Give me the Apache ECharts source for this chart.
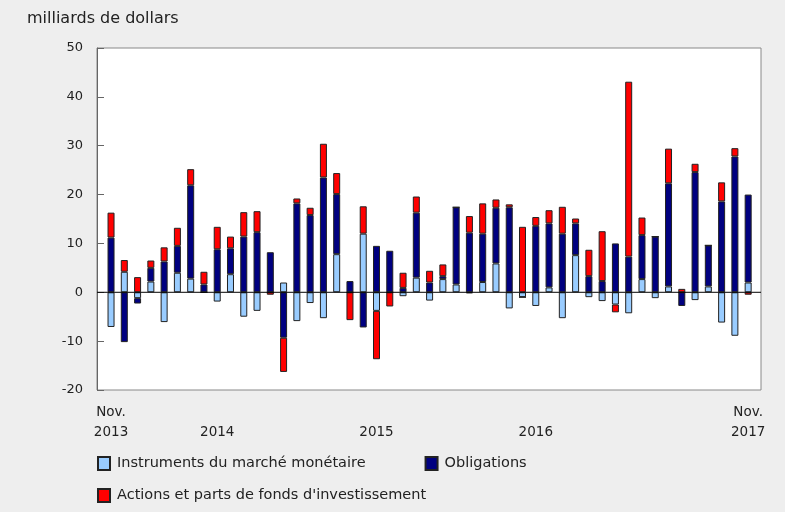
<!DOCTYPE html>
<html>
<head>
<meta charset="utf-8">
<script src="https://cdn.jsdelivr.net/npm/echarts@6/dist/echarts.min.js"></script>
<style>
  html, body { margin: 0; padding: 0; background: #eeeeee; }
  #chart { width: 785px; height: 512px; }
</style>
</head>
<body>
<div id="chart"></div>
<script>
// Nov 2013 .. Nov 2017, monthly
const months = []
for (let i = 0; i < 49; i++) {
  const m = (10 + i) % 12
  const y = 2013 + Math.floor((10 + i) / 12)
  months.push(y + '-' + String(m + 1).padStart(2, '0'))
}

const tickLabels = {
  '2013-11': 'Nov.\n2013',
  '2014-07': '\n2014',
  '2015-07': '\n2015',
  '2016-07': '\n2016',
  '2017-11': 'Nov.\n2017'
}

const moneyMarket = [
  -7.1, 4.2, -1.2, 2.2, -6.1, 4.0, 2.8, 0, -1.9, 3.7, -5.0, -3.8,
  0, 2.0, -5.9, -2.2, -5.3, 7.8, 0, 12.0, -3.8, 0, -0.8, 3.0,
  -1.7, 2.7, 1.6, -0.2, 2.1, 5.9, -3.3, -1.0, -2.8, 1.0, -5.3, 7.6,
  -1.0, -1.8, -2.5, -4.3, 2.7, -1.2, 1.2, 0, -1.6, 1.2, -6.2, -8.9,
  2.0
]

const bonds = [
  11.2, -10.2, -1.1, 2.8, 6.3, 5.5, 19.1, 1.6, 8.8, 5.3, 11.4, 12.3,
  8.2, -9.3, 18.2, 15.8, 23.5, 12.3, 2.3, -7.2, 9.5, 8.5, 0.9, 13.3,
  2.0, 0.6, 15.8, 12.2, 9.9, 11.4, 17.4, 0, 13.6, 13.1, 12.0, 6.5,
  3.3, 2.3, 10.0, 7.3, 9.0, 11.4, 21.1, -2.8, 24.6, 8.4, 18.6, 27.8,
  18.0
]

const equity = [
  5.1, 2.4, 3.1, 1.5, 2.9, 3.7, 3.3, 2.6, 4.6, 2.4, 5.0, 4.3,
  -0.5, -7.0, 1.0, 1.5, 6.9, 4.3, -5.7, 5.6, -9.9, -2.9, 3.1, 3.3,
  2.4, 2.4, 0, 3.4, 6.2, 1.7, 0.6, 13.4, 1.8, 2.7, 5.5, 1.0,
  5.4, 10.2, -1.6, 35.8, 3.6, 0, 7.1, 0.7, 1.7, 0, 3.9, 1.7,
  -0.5
]

const chart = echarts.init(document.getElementById('chart'))

const font = 'DejaVu Sans, Verdana, sans-serif'
const barBorder = { borderColor: '#222', borderWidth: 1 }
const legendText = { fontFamily: font, fontSize: 14.5, color: '#222', padding: [0, 0, 0, 2] }

// plot frame (a bit wider than the bar area, as in the original)
const frame = { left: 97, top: 48, right: 761, bottom: 390 }

chart.setOption({
  backgroundColor: '#eeeeee',
  textStyle: { fontFamily: font, color: '#222' },
  title: {
    text: 'milliards de dollars',
    left: 22,
    top: 6,
    textStyle: { fontFamily: font, fontSize: 16, fontWeight: 'normal', color: '#222' }
  },
  legend: [
    {
      data: ['Instruments du marché monétaire', 'Obligations'],
      left: 97,
      top: 456,
      padding: 0,
      icon: 'rect',
      itemWidth: 12,
      itemHeight: 13,
      itemGap: 59,
      textStyle: legendText
    },
    {
      data: ["Actions et parts de fonds d'investissement"],
      left: 97,
      top: 488,
      padding: 0,
      icon: 'rect',
      itemWidth: 12,
      itemHeight: 13,
      textStyle: legendText
    }
  ],
  graphic: [{
    type: 'rect',
    z: -10,
    silent: true,
    shape: {
      x: frame.left,
      y: frame.top,
      width: frame.right - frame.left,
      height: frame.bottom - frame.top
    },
    style: { fill: '#ffffff', stroke: '#888', lineWidth: 1 }
  }],
  grid: {
    left: 104.4,
    top: 48,
    right: 30.2,
    bottom: 122,
    outerBoundsMode: 'none',
    containLabel: false
  },
  xAxis: {
    type: 'category',
    data: months,
    axisLine: { show: false, onZero: false },
    axisTick: { show: false },
    axisLabel: {
      interval: 0,
      margin: 12,
      fontFamily: font,
      fontSize: 13.5,
      color: '#222',
      lineHeight: 20,
      formatter: v => tickLabels[v] || ''
    }
  },
  yAxis: {
    type: 'value',
    min: -20,
    max: 50,
    interval: 10,
    offset: 7.4,
    axisLine: { show: true, lineStyle: { color: '#666' } },
    axisTick: { show: true, inside: true, length: 7, lineStyle: { color: '#666' } },
    splitLine: { show: false },
    axisLabel: { fontFamily: font, fontSize: 13, color: '#222', margin: 14 }
  },
  series: [
    {
      name: 'Instruments du marché monétaire',
      type: 'bar',
      stack: 'total',
      data: moneyMarket,
      barWidth: 7,
      itemStyle: Object.assign({ color: '#99ccff' }, barBorder)
    },
    {
      name: 'Obligations',
      type: 'bar',
      stack: 'total',
      data: bonds,
      barWidth: 7,
      itemStyle: Object.assign({ color: '#000080' }, barBorder)
    },
    {
      name: "Actions et parts de fonds d'investissement",
      type: 'bar',
      stack: 'total',
      data: equity,
      barWidth: 7,
      itemStyle: Object.assign({ color: '#ff0000' }, barBorder)
    }
  ]
})

// zero line across the whole frame, placed with the y scale
const y0 = chart.convertToPixel({ yAxisIndex: 0 }, 0)
chart.setOption({
  graphic: [
    {},
    {
      type: 'line',
      z: 10,
      silent: true,
      shape: { x1: frame.left, y1: y0, x2: frame.right, y2: y0 },
      style: { stroke: '#000', lineWidth: 1 }
    }
  ]
})
</script>
</body>
</html>
